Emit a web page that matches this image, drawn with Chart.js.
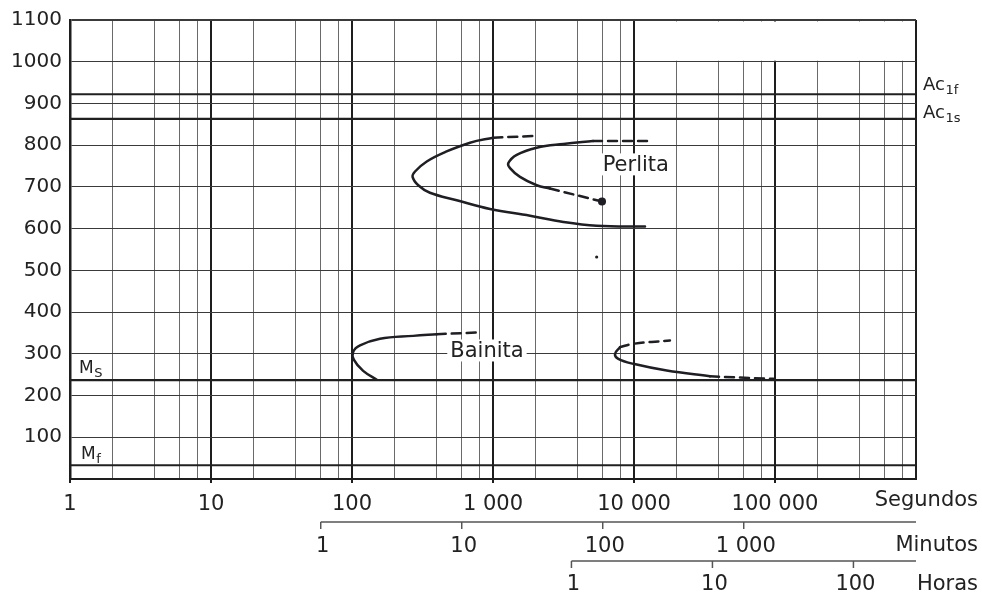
<!DOCTYPE html>
<html>
<head>
<meta charset="utf-8">
<script src="https://cdn.jsdelivr.net/npm/chart.js@4.4.1/dist/chart.umd.min.js"></script>
<style>
html,body{margin:0;padding:0;background:#fff;}
canvas{display:block;}
</style>
</head>
<body>
<canvas id="c" width="982" height="599"></canvas>
<script>
// ---- axis data ----
const yTickValues = [0,100,200,300,400,500,600,700,800,900,1000,1100];
const xDecades = [1,10,100,1000,10000,100000,1000000];
const xDecadeLabels = ['1','10','100','1 000','10 000','100 000',''];
const xMinorMultipliers = [2,4,6,8];
const minuteTickValues = [1,10,100,1000];
const minuteTickLabels = ['1','10','100','1 000'];
const hourTickValues = [1,10,100];
const hourTickLabels = ['1','10','100'];

// ---- critical temperatures (°C) ----
const criticalNames = ['Ac', 'Ac', 'M', 'M'];
const criticalSubs = ['1f', '1s', 'S', 'f'];
const criticalTemps = [922, 863, 237, 33];

// ---- pearlite start (outer C curve) ----
const pearliteStartTime = [1005, 687, 469, 339, 280, 269, 295, 357, 553, 952, 1830, 3155, 5436, 11970];
const pearliteStartTemp = [818, 806, 785, 761, 737, 724, 704, 686, 668, 647, 631, 616, 607, 605];
const pearliteStartDashTime = [1005, 1986];
const pearliteStartDashTemp = [818, 822];

// ---- pearlite finish (inner C curve) ----
const pearliteEndTime = [5120, 3155, 2042, 1473, 1284, 1320, 1554, 2042, 2536];
const pearliteEndTemp = [810, 803, 794, 777, 757, 745, 724, 704, 696];
const pearliteEndDashTopTime = [5120, 12570];
const pearliteEndDashTopTemp = [810, 810];
const pearliteEndDashLowTime = [2536, 5930];
const pearliteEndDashLowTemp = [696, 665];
const strayDotTime = [5436];
const strayDotTemp = [532];

// ---- bainite start ----
const bainiteStartTime = [399, 272, 158, 114, 102, 103, 120, 150];
const bainiteStartTemp = [347, 343, 336, 320, 305, 286, 259, 238];
const bainiteStartDashTime = [399, 766];
const bainiteStartDashTemp = [347, 351];

// ---- bainite finish ----
const bainiteEndTime = [7960, 7330, 7740, 9886, 17060, 34600];
const bainiteEndTemp = [316, 300, 288, 276, 260, 246];
const bainiteEndDashTopTime = [7960, 9886, 17990];
const bainiteEndDashTopTemp = [316, 324, 332];
const bainiteEndDashLowTime = [34600, 97300];
const bainiteEndDashLowTemp = [246, 240];

// ---- region labels ----
const regionLabels = ['Perlita', 'Bainita'];
const regionLabelTimes = [10300, 906];
const regionLabelTemps = [754, 308];

// ---- helpers ----
const FONT = 'DejaVu Sans';
const INK = '#1e1e24';
const pts = (xs, ys) => xs.map((x, i) => ({x: x, y: ys[i]}));
const isDecade = v => Math.abs(Math.log10(v) - Math.round(Math.log10(v))) < 1e-9;
const xTickValues = [];
xDecades.forEach((d, i) => {
  xTickValues.push(d);
  if (i < xDecades.length - 1) xMinorMultipliers.forEach(m => xTickValues.push(d * m));
});
xTickValues.sort((a, b) => a - b);

function curve(xs, ys, dashed, extra) {
  return Object.assign({
    data: pts(xs, ys), showLine: true, borderColor: INK, backgroundColor: INK,
    borderWidth: 2.5, pointRadius: 0, tension: 0.4, fill: false,
    borderDash: dashed ? [9, 6] : [], borderCapStyle: 'round'
  }, extra || {});
}

const datasets = [];
criticalTemps.forEach(t => {
  datasets.push({data: [{x: 1, y: t}, {x: 1000000, y: t}], showLine: true, borderColor: '#202020',
    borderWidth: 2.2, pointRadius: 0, tension: 0});
});
datasets.push(curve(pearliteStartTime, pearliteStartTemp, false));
datasets.push(curve(pearliteStartDashTime, pearliteStartDashTemp, true, {tension: 0}));
datasets.push(curve(pearliteEndTime, pearliteEndTemp, false));
datasets.push(curve(pearliteEndDashTopTime, pearliteEndDashTopTemp, true, {tension: 0}));
datasets.push(curve(pearliteEndDashLowTime, pearliteEndDashLowTemp, true, {
  tension: 0, pointRadius: c => c.dataIndex === pearliteEndDashLowTime.length - 1 ? 2.8 : 0}));
datasets.push({data: pts(strayDotTime, strayDotTemp), showLine: false, pointRadius: 1.6,
  backgroundColor: INK, borderColor: INK, borderWidth: 0});
datasets.push(curve(bainiteStartTime, bainiteStartTemp, false));
datasets.push(curve(bainiteStartDashTime, bainiteStartDashTemp, true, {tension: 0}));
datasets.push(curve(bainiteEndTime, bainiteEndTemp, false));
datasets.push(curve(bainiteEndDashTopTime, bainiteEndDashTopTemp, true));
datasets.push(curve(bainiteEndDashLowTime, bainiteEndDashLowTemp, true, {tension: 0}));

function drawSubText(ctx, main, sub, x, yCenter, size, subSize) {
  ctx.font = size + 'px "' + FONT + '"';
  ctx.textAlign = 'left';
  ctx.textBaseline = 'middle';
  ctx.fillText(main, x, yCenter);
  const w = ctx.measureText(main).width;
  ctx.font = subSize + 'px "' + FONT + '"';
  ctx.fillText(sub, x + w + 0.5, yCenter + size * 0.3);
}

const annotate = {
  id: 'annotate',
  beforeDatasetsDraw(chart) {
    const ctx = chart.ctx, xs = chart.scales.x, ys = chart.scales.y;
    // the top band beyond 10 000 s has no vertical rulings
    const x0 = xs.getPixelForValue(10000) + 1.5, x1 = xs.getPixelForValue(1000000) - 1.5;
    const y0 = ys.getPixelForValue(1100) + 1.5, y1 = ys.getPixelForValue(1000) - 1;
    ctx.save();
    ctx.fillStyle = '#fff';
    ctx.fillRect(x0, y0, x1 - x0, y1 - y0);
    ctx.restore();
  },
  afterDraw(chart) {
    const ctx = chart.ctx, xs = chart.scales.x, ys = chart.scales.y, area = chart.chartArea;
    ctx.save();
    ctx.fillStyle = '#222';
    // critical temperature labels
    const acX = area.right + 7;
    drawSubText(ctx, criticalNames[0], criticalSubs[0], acX, ys.getPixelForValue(criticalTemps[0]) - 9, 18, 13);
    drawSubText(ctx, criticalNames[1], criticalSubs[1], acX, ys.getPixelForValue(criticalTemps[1]) - 6, 18, 13);
    drawSubText(ctx, criticalNames[2], criticalSubs[2], area.left + 9, ys.getPixelForValue(criticalTemps[2]) - 12, 17, 13);
    drawSubText(ctx, criticalNames[3], criticalSubs[3], area.left + 11, ys.getPixelForValue(criticalTemps[3]) - 11, 17, 13);
    // region labels
    ctx.font = '21px "' + FONT + '"';
    ctx.textAlign = 'center';
    ctx.textBaseline = 'middle';
    regionLabels.forEach((t, i) => {
      const px = xs.getPixelForValue(regionLabelTimes[i]), py = ys.getPixelForValue(regionLabelTemps[i]);
      const w = ctx.measureText(t).width;
      ctx.fillStyle = '#fff';
      ctx.fillRect(px - w / 2 - 3, py - 11, w + 6, 22);
      ctx.fillStyle = '#222';
      ctx.fillText(t, px, py + 1);
    });
    // unit names
    ctx.textAlign = 'right';
    ctx.font = '21px "' + FONT + '"';
    ctx.fillText('Segundos', 978, 501);
    ctx.fillText('Minutos', 978, 546);
    ctx.fillText('Horas', 978, 585);
    // secondary time axes
    ctx.strokeStyle = '#555';
    ctx.lineWidth = 1.5;
    const drawAxis = (vals, labels, factor, yLine, yLabel) => {
      const xStart = xs.getPixelForValue(vals[0] * factor);
      ctx.beginPath();
      ctx.moveTo(xStart, yLine);
      ctx.lineTo(area.right, yLine);
      ctx.stroke();
      ctx.textAlign = 'center';
      vals.forEach((v, i) => {
        const px = xs.getPixelForValue(v * factor);
        ctx.beginPath();
        ctx.moveTo(px, yLine);
        ctx.lineTo(px, yLine + 7);
        ctx.stroke();
        ctx.fillText(labels[i], px + 2, yLabel);
      });
    };
    drawAxis(minuteTickValues, minuteTickLabels, 60, 522, 547);
    drawAxis(hourTickValues, hourTickLabels, 3600, 561, 585);
    ctx.restore();
  }
};

new Chart(document.getElementById('c'), {
  type: 'scatter',
  data: {datasets: datasets},
  plugins: [annotate],
  options: {
    responsive: false,
    animation: false,
    devicePixelRatio: 1,
    layout: {padding: {top: 15, right: 66, left: 0, bottom: 0}},
    plugins: {legend: {display: false}, tooltip: {enabled: false}},
    scales: {
      x: {
        type: 'logarithmic', min: 1, max: 1000000, position: 'bottom',
        afterBuildTicks: s => { s.ticks = xTickValues.map(v => ({value: v})); },
        afterFit: s => { s.height = 120; },
        ticks: {
          autoSkip: false, maxRotation: 0, minRotation: 0, padding: 9, color: '#222',
          font: {family: FONT, size: 21},
          callback: v => { const i = xDecades.findIndex(d => Math.abs(d - v) < 1e-6 * d); return i >= 0 ? xDecadeLabels[i] : ''; }
        },
        grid: {
          drawTicks: true, tickLength: 4,
          lineWidth: c => (c.tick && isDecade(c.tick.value)) ? 2 : 1,
          color: c => (c.tick && isDecade(c.tick.value)) ? '#1e1e1e' : '#6a6a6a',
          tickColor: c => (c.tick && isDecade(c.tick.value) && c.tick.value < 1000000) ? '#1e1e1e' : 'rgba(0,0,0,0)',
          tickWidth: 2
        },
        border: {display: true, width: 2, color: '#1e1e1e'}
      },
      y: {
        type: 'linear', min: 0, max: 1100,
        afterBuildTicks: s => { s.ticks = yTickValues.map(v => ({value: v})); },
        afterFit: s => { s.width = 70; },
        ticks: {
          padding: 8, color: '#222', font: {family: FONT, size: 20},
          callback: v => v === 0 ? '' : String(v)
        },
        grid: {
          drawTicks: false,
          lineWidth: c => (c.tick && c.tick.value === 1100) ? 2 : 1,
          color: '#3a3a3a'
        },
        border: {display: true, width: 2.5, color: '#1e1e1e'}
      }
    }
  }
});
</script>
</body>
</html>
